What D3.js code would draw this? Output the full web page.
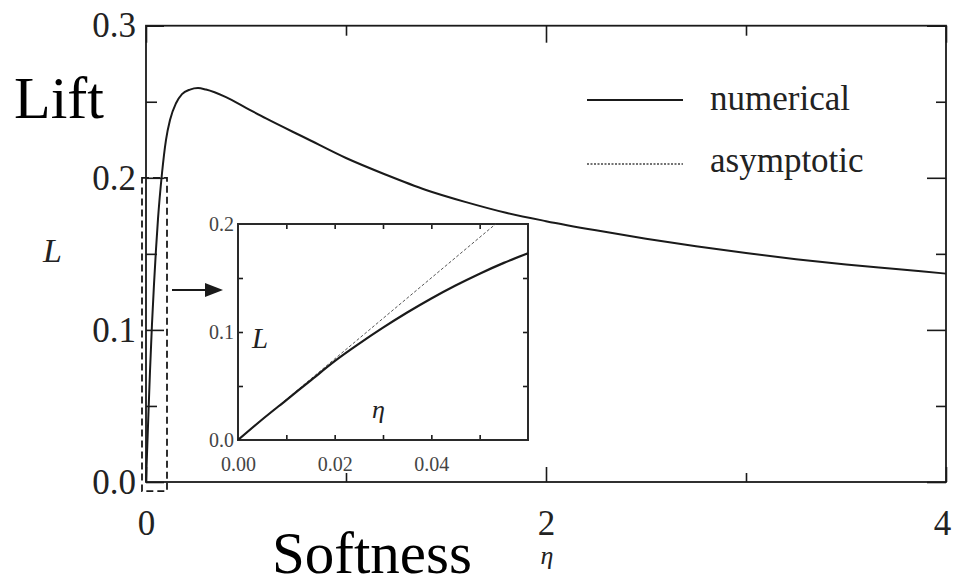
<!DOCTYPE html>
<html>
<head>
<meta charset="utf-8">
<script src="https://cdn.jsdelivr.net/npm/d3@7"></script>
<style>
  body { margin: 0; background: #fff; }
  text { font-family: "Liberation Serif", "Times New Roman", serif; }
</style>
</head>
<body>
<script>
// main curve (numerical), eta vs lift
const etaMain = [0, 0.01, 0.02, 0.03, 0.04, 0.05, 0.06, 0.08, 0.10, 0.12, 0.15, 0.18, 0.22, 0.26, 0.3, 0.4, 0.5, 0.6, 0.8, 1.0, 1.2, 1.4, 1.6, 1.8, 2.0, 2.25, 2.5, 2.75, 3.0, 3.25, 3.5, 3.75, 4.0];
const liftMain = [0, 0.037, 0.073, 0.104, 0.13, 0.153, 0.173, 0.203, 0.225, 0.238, 0.249, 0.255, 0.258, 0.259, 0.258, 0.253, 0.246, 0.239, 0.226, 0.213, 0.202, 0.192, 0.184, 0.177, 0.1715, 0.1655, 0.160, 0.155, 0.1505, 0.1465, 0.143, 0.140, 0.137];

// inset, small eta
const etaInset = [0, 0.005, 0.01, 0.015, 0.02, 0.025, 0.03, 0.035, 0.04, 0.045, 0.05, 0.055, 0.06];
const liftInset = [0, 0.019, 0.037, 0.055, 0.073, 0.089, 0.104, 0.118, 0.131, 0.143, 0.154, 0.164, 0.173];
const etaAsym = [0, 0.0533];
const liftAsym = [0, 0.2];

// ticks
const xMajor = [0, 2, 4];
const xMinor = [1, 3];
const yMajor = [0, 0.1, 0.2, 0.3];
const yMinor = [0.05, 0.15, 0.25];
const xiLabels = [0, 0.02, 0.04];
const xiTicks = [0.01, 0.02, 0.03, 0.04, 0.05];
const yiLabels = [0, 0.1, 0.2];
const yiTicks = [0.05, 0.1, 0.15];

// dashed zoom box in main coords
const boxEta = [-0.02, 0.105];
const boxLift = [-0.006, 0.2];

const legendNames = ["numerical", "asymptotic"];

const svg = d3.select("body").append("svg").attr("width", 953).attr("height", 587);

const x = d3.scaleLinear().domain([0, 4]).range([146, 946]);
const y = d3.scaleLinear().domain([0, 0.3]).range([482, 25.7]);

const ink = "#1a1a1a";

function styleAxis(g, size, color) {
  g.select(".domain").remove();
  g.selectAll("line").attr("stroke", ink).attr("stroke-width", 1.6);
  g.selectAll("text").attr("font-size", size).attr("fill", color)
    .attr("font-family", "Liberation Serif");
}

// main axes
svg.append("g").attr("transform", "translate(146,0)")
  .call(d3.axisLeft(y).tickValues(yMajor).tickSize(-18).tickPadding(10).tickFormat(d3.format(".1f")))
  .call(g => styleAxis(g, 35, "#222"));
svg.append("g").attr("transform", "translate(146,0)")
  .call(d3.axisLeft(y).tickValues(yMinor).tickSize(-11).tickFormat(""))
  .call(g => styleAxis(g, 35, "#222"));
svg.append("g").attr("transform", "translate(946,0)")
  .call(d3.axisRight(y).tickValues(yMajor).tickSize(-19).tickFormat(""))
  .call(g => styleAxis(g, 35, "#222"));
svg.append("g").attr("transform", "translate(946,0)")
  .call(d3.axisRight(y).tickValues(yMinor).tickSize(-10).tickFormat(""))
  .call(g => styleAxis(g, 35, "#222"));
svg.append("g").attr("transform", "translate(0,482)")
  .call(d3.axisBottom(x).tickValues(xMajor).tickSize(-15).tickPadding(28).tickFormat(d3.format("d")))
  .call(g => styleAxis(g, 35, "#222"))
  .call(g => g.selectAll("text").filter(d => d === 4).attr("dx", -4));
svg.append("g").attr("transform", "translate(0,482)")
  .call(d3.axisBottom(x).tickValues(xMinor).tickSize(-9).tickFormat(""))
  .call(g => styleAxis(g, 35, "#222"));
svg.append("g").attr("transform", "translate(0,25.7)")
  .call(d3.axisTop(x).tickValues(xMajor).tickSize(-17).tickFormat(""))
  .call(g => styleAxis(g, 35, "#222"));
svg.append("g").attr("transform", "translate(0,25.7)")
  .call(d3.axisTop(x).tickValues(xMinor).tickSize(-10).tickFormat(""))
  .call(g => styleAxis(g, 35, "#222"));

svg.append("rect")
  .attr("x", x(0)).attr("y", y(0.3))
  .attr("width", x(4) - x(0)).attr("height", y(0) - y(0.3))
  .attr("fill", "none").attr("stroke", ink).attr("stroke-width", 1.8);

// dashed box
svg.append("rect")
  .attr("x", x(boxEta[0])).attr("y", y(boxLift[1]))
  .attr("width", x(boxEta[1]) - x(boxEta[0]))
  .attr("height", y(boxLift[0]) - y(boxLift[1]))
  .attr("fill", "none").attr("stroke", ink).attr("stroke-width", 1.8)
  .attr("stroke-dasharray", "7,4");

// main curve
const mainPts = etaMain.map((e, i) => [e, liftMain[i]]);
svg.append("path")
  .datum(mainPts)
  .attr("fill", "none").attr("stroke", ink).attr("stroke-width", 2)
  .attr("d", d3.line().x(d => x(d[0])).y(d => y(d[1])).curve(d3.curveMonotoneX));

// inset
const xi = d3.scaleLinear().domain([0, 0.06]).range([238, 528]);
const yi = d3.scaleLinear().domain([0, 0.2]).range([440, 224]);

svg.append("rect")
  .attr("x", xi(0)).attr("y", yi(0.2))
  .attr("width", xi(0.06) - xi(0)).attr("height", yi(0) - yi(0.2))
  .attr("fill", "#fff");

svg.append("g").attr("transform", `translate(${xi(0)},0)`)
  .call(d3.axisLeft(yi).tickValues(yiLabels).tickSize(0).tickPadding(4).tickFormat(d3.format(".1f")))
  .call(g => styleAxis(g, 20, "#444"));
svg.append("g").attr("transform", `translate(${xi(0)},0)`)
  .call(d3.axisLeft(yi).tickValues(yiTicks).tickSize(-5).tickFormat(""))
  .call(g => styleAxis(g, 20, "#444"));
svg.append("g").attr("transform", `translate(${xi(0.06)},0)`)
  .call(d3.axisRight(yi).tickValues(yiTicks).tickSize(-5).tickFormat(""))
  .call(g => styleAxis(g, 20, "#444"));
svg.append("g").attr("transform", `translate(0,${yi(0)})`)
  .call(d3.axisBottom(xi).tickValues(xiLabels).tickSize(0).tickPadding(17).tickFormat(d3.format(".2f")))
  .call(g => styleAxis(g, 20, "#444"));
svg.append("g").attr("transform", `translate(0,${yi(0)})`)
  .call(d3.axisBottom(xi).tickValues(xiTicks).tickSize(-5).tickFormat(""))
  .call(g => styleAxis(g, 20, "#444"));
svg.append("g").attr("transform", `translate(0,${yi(0.2)})`)
  .call(d3.axisTop(xi).tickValues(xiTicks).tickSize(-5).tickFormat(""))
  .call(g => styleAxis(g, 20, "#444"));

svg.append("rect")
  .attr("x", xi(0)).attr("y", yi(0.2))
  .attr("width", xi(0.06) - xi(0)).attr("height", yi(0) - yi(0.2))
  .attr("fill", "none").attr("stroke", "#2a2a2a").attr("stroke-width", 2);

const asymPts = etaAsym.map((e, i) => [e, liftAsym[i]]);
svg.append("path")
  .datum(asymPts)
  .attr("fill", "none").attr("stroke", "#555").attr("stroke-width", 1)
  .attr("stroke-dasharray", "3,2")
  .attr("d", d3.line().x(d => xi(d[0])).y(d => yi(d[1])));

const insetPts = etaInset.map((e, i) => [e, liftInset[i]]);
svg.append("path")
  .datum(insetPts)
  .attr("fill", "none").attr("stroke", ink).attr("stroke-width", 2.2)
  .attr("d", d3.line().x(d => xi(d[0])).y(d => yi(d[1])).curve(d3.curveMonotoneX));

svg.append("text").attr("x", 252).attr("y", 348)
  .attr("font-size", 29).attr("font-style", "italic").attr("fill", "#222").text("L");
svg.append("text").attr("x", 372).attr("y", 418)
  .attr("font-size", 26).attr("font-style", "italic").attr("fill", "#222").text("η");

// arrow
svg.append("line")
  .attr("x1", 172).attr("y1", 290).attr("x2", 208).attr("y2", 290)
  .attr("stroke", ink).attr("stroke-width", 2);
svg.append("path")
  .attr("d", "M205,283 L223,290 L205,297 Z")
  .attr("fill", ink);

// legend
const legend = svg.append("g");
legend.selectAll("line")
  .data(legendNames)
  .enter().append("line")
  .attr("x1", 587).attr("x2", 683)
  .attr("y1", (d, i) => 100 + i * 64)
  .attr("y2", (d, i) => 100 + i * 64)
  .attr("stroke", (d, i) => i === 0 ? ink : "#444")
  .attr("stroke-width", (d, i) => i === 0 ? 2 : 1.4)
  .attr("stroke-dasharray", (d, i) => i === 0 ? null : "2,1.5");
legend.selectAll("text")
  .data(legendNames)
  .enter().append("text")
  .attr("x", 710)
  .attr("y", (d, i) => 110 + i * 62)
  .attr("font-size", 35).attr("fill", "#222")
  .text(d => d);

// titles
svg.append("text").attr("x", 14).attr("y", 118)
  .attr("font-size", 60).attr("fill", "#000").text("Lift");
svg.append("text").attr("x", 272).attr("y", 573)
  .attr("font-size", 59).attr("fill", "#000").text("Softness");
svg.append("text").attr("x", 43).attr("y", 262)
  .attr("font-size", 34).attr("font-style", "italic").attr("fill", "#222").text("L");
svg.append("text").attr("x", 547).attr("y", 564).attr("text-anchor", "middle")
  .attr("font-size", 26).attr("font-style", "italic").attr("fill", "#222").text("η");
</script>
</body>
</html>
